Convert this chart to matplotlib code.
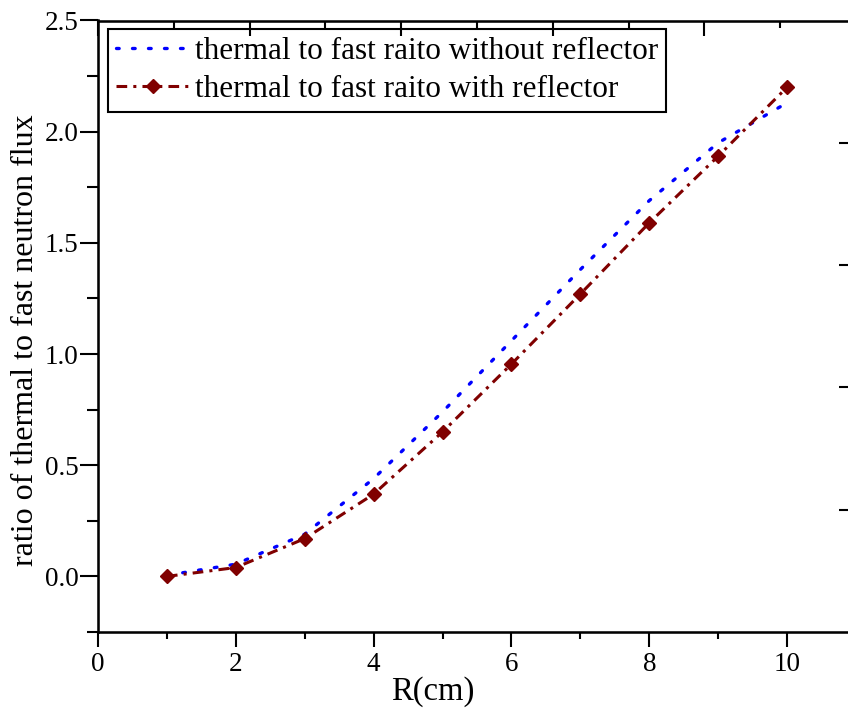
import numpy as np
import matplotlib.pyplot as plt
from matplotlib.ticker import MultipleLocator, NullFormatter

plt.rcParams['font.family'] = ['Liberation Serif', 'DejaVu Serif']

# radius (cm)
r = np.arange(1, 11)
# thermal to fast neutron flux ratio
sem_refletor = [0.005, 0.055, 0.19, 0.44, 0.74, 1.06, 1.38, 1.69, 1.95, 2.13]
com_refletor = [0.0, 0.04, 0.17, 0.37, 0.65, 0.955, 1.27, 1.59, 1.89, 2.20]

legendas = ['thermal to fast raito without reflector',
            'thermal to fast raito with reflector']

fig = plt.figure(figsize=(8.48, 7.15), dpi=100)
# o eixo da direita fica fora da imagem, como no original
ax = fig.add_axes([98/848, 83/715, 758/848, 611.5/715])

ax.plot(r, sem_refletor, color='#0000ff', lw=2.4, dashes=(0.8, 4.0),
        dash_capstyle='round', label=legendas[0])
ax.plot(r, com_refletor, color='#800000', lw=2.2, dashes=(3.5, 2, 1, 2),
        marker='D', ms=7, label=legendas[1])

ax.set_xlim(0, 11)
ax.set_ylim(-0.25, 2.5)
ax.xaxis.set_major_locator(MultipleLocator(2))
ax.xaxis.set_minor_locator(MultipleLocator(1))
ax.yaxis.set_major_locator(MultipleLocator(0.5))
ax.yaxis.set_minor_locator(MultipleLocator(0.25))
ax.set_yticks([0.0, 0.5, 1.0, 1.5, 2.0, 2.5])
ax.set_yticklabels(['0.0', '0.5', '1.0', '1.5', '2.0', '2.5'])
ax.tick_params(which='major', direction='out', length=11, width=1.5, labelsize=19.5)
ax.tick_params(which='minor', direction='out', length=5, width=1.5)
ax.tick_params(axis='y', which='major', length=13, pad=1)
ax.tick_params(axis='y', which='minor', length=8)
for s in ax.spines.values():
    s.set_linewidth(1.8)

ax.set_xlabel('R(cm)', fontsize=23.5)
ax.set_ylabel('ratio of thermal to fast neutron flux', fontsize=23)
ax.xaxis.set_label_coords((433 - 98) / 758, -0.072)
ax.yaxis.set_label_coords(-0.076, (632 - 340) / 611.5)

# eixos de cima e da direita so com tracos (como no Origin)
topo = ax.twiny()
topo.set_xlim(0, 5)
topo.xaxis.set_major_locator(MultipleLocator(1))
topo.xaxis.set_minor_locator(MultipleLocator(0.5))
topo.xaxis.set_major_formatter(NullFormatter())
topo.tick_params(which='major', direction='in', length=11, width=1.5)
topo.tick_params(which='minor', direction='in', length=5, width=1.5)

direita = ax.twinx()
direita.set_ylim(0, 5)
direita.set_yticks([1, 2, 3, 4])
direita.yaxis.set_major_formatter(NullFormatter())
direita.tick_params(direction='in', length=12, width=1.5)

leg = ax.legend(loc='upper left', bbox_to_anchor=(0.013, 0.986), borderaxespad=0,
                fontsize=22.5, fancybox=False, edgecolor='black', framealpha=1,
                handlelength=2.4, handletextpad=0.15, borderpad=0.25,
                labelspacing=0.3)
leg.get_frame().set_linewidth(1.5)

fig.savefig('out.png', dpi=100)
